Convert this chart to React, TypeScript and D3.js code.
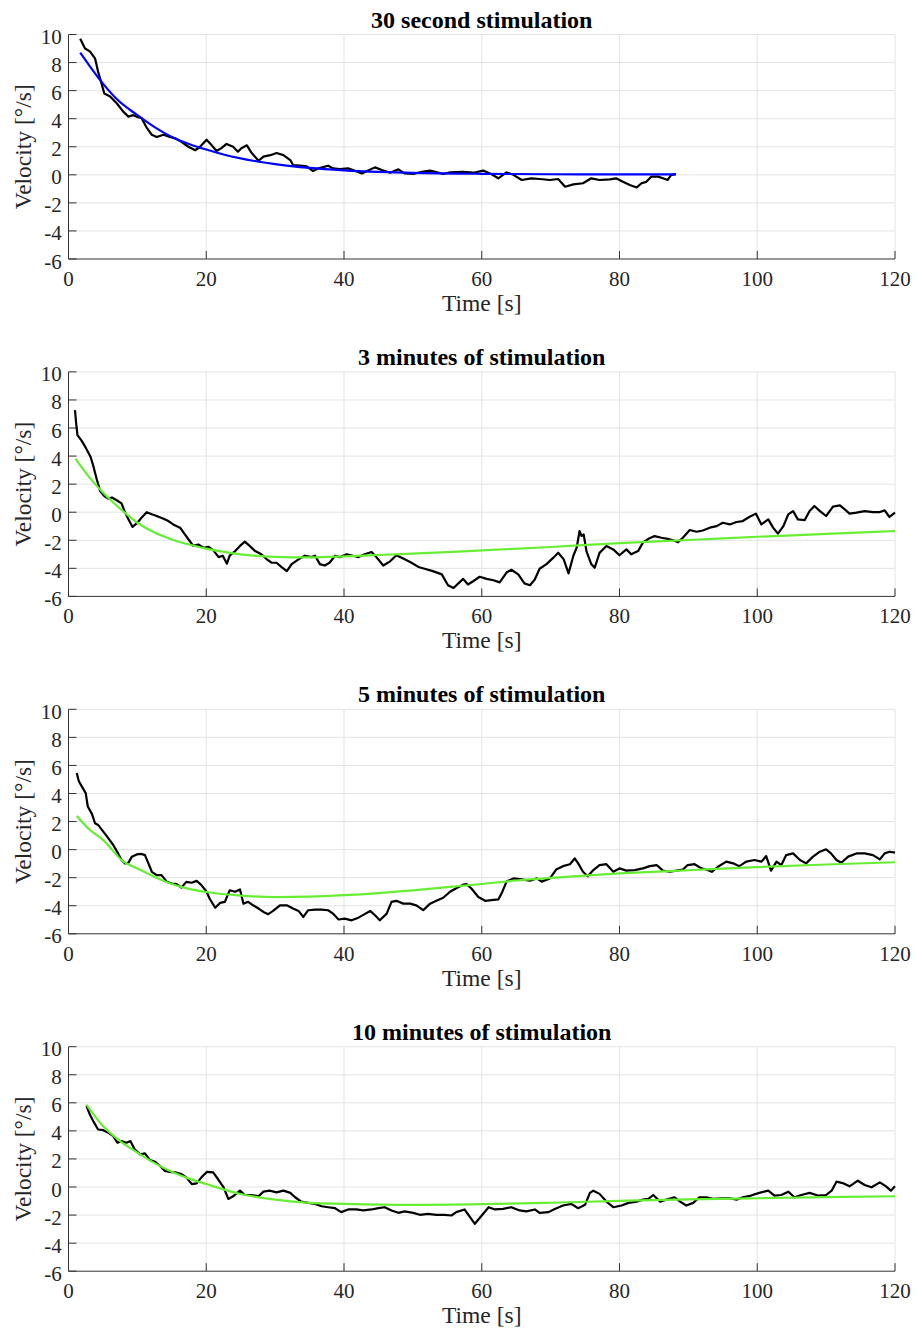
import React from "react";
import * as d3 from "d3";

// panel titles
const titles = [
  "30 second stimulation",
  "3 minutes of stimulation",
  "5 minutes of stimulation",
  "10 minutes of stimulation",
];

const xTicks = [0, 20, 40, 60, 80, 100, 120];
const yTicks = [-6, -4, -2, 0, 2, 4, 6, 8, 10];

// 30 s stimulation - measured velocity [t, v]
const raw30 = [
  [1.7, 9.7], [2.4, 9.0], [3.1, 8.8], [3.85, 8.3], [4.3, 7.35], [4.8, 6.5], [5.2, 5.8],
  [6.0, 5.6], [7.0, 5.1], [7.95, 4.5], [8.7, 4.15], [9.4, 4.25], [10.1, 4.1], [10.6, 4.05],
  [11.3, 3.4], [12.1, 2.85], [12.8, 2.7], [13.8, 2.85], [14.7, 2.7], [15.5, 2.6], [16.4, 2.35],
  [17.4, 2.0], [18.4, 1.75], [19.1, 2.0], [20.05, 2.5], [20.8, 2.1], [21.5, 1.7], [22.2, 1.9],
  [22.95, 2.2], [23.9, 2.0], [24.6, 1.65], [25.1, 1.9], [25.9, 2.1], [26.6, 1.55], [27.6, 1.0],
  [28.3, 1.3], [29.3, 1.4], [30.2, 1.55], [31.2, 1.4], [32.2, 1.05], [32.6, 0.7], [33.6, 0.65],
  [34.6, 0.6], [35.5, 0.27], [36.3, 0.46], [37.7, 0.65], [38.4, 0.46], [39.4, 0.41], [40.6, 0.46],
  [41.3, 0.34], [42.6, 0.1], [43.5, 0.3], [44.5, 0.53], [45.5, 0.34], [46.7, 0.15], [47.9, 0.39],
  [48.8, 0.1], [50.1, 0.06], [51.3, 0.22], [52.5, 0.3], [53.5, 0.18], [54.4, 0.06], [55.4, 0.17],
  [57.3, 0.22], [58.8, 0.15], [60.2, 0.3], [61.2, 0.1], [62.4, -0.25], [63.6, 0.17], [64.6, 0],
  [65.8, -0.37], [67.2, -0.25], [68.4, -0.3], [69.9, -0.37], [71.1, -0.3], [72.1, -0.85],
  [73.3, -0.68], [74.7, -0.6], [75.9, -0.25], [77.1, -0.37], [78.6, -0.32], [79.5, -0.25],
  [80.5, -0.5], [81.5, -0.73], [82.5, -0.9], [83.2, -0.6], [83.9, -0.5], [84.6, -0.13],
  [85.6, -0.13], [86.3, -0.25], [87.0, -0.37], [87.5, 0], [88.2, 0.05],
];

// 30 s stimulation - exponential fit
const fit30 = [
  [1.7, 8.7], [3, 7.8], [5, 6.5], [7, 5.4], [10, 4.25], [12.5, 3.4], [15, 2.7], [17.5, 2.2],
  [20, 1.8], [22.5, 1.45], [25, 1.17], [30, 0.76], [35, 0.49], [40, 0.32], [45, 0.21],
  [50, 0.14], [60, 0.07], [70, 0.04], [80, 0.03], [88.2, 0.03],
];

// 3 min stimulation
const raw3 = [
  [0.94, 7.27], [1.1, 6.4], [1.3, 5.5], [1.9, 5.1], [2.5, 4.6], [3.2, 3.95], [3.6, 3.3],
  [4.1, 2.35], [4.6, 1.5], [5.2, 1.15], [5.8, 0.96], [6.3, 1.05], [7.0, 0.85], [7.7, 0.63],
  [8.2, 0], [8.7, -0.5], [9.3, -1.05], [9.9, -0.8], [10.6, -0.4], [11.35, 0], [12.1, -0.15],
  [12.8, -0.27], [13.8, -0.46], [14.5, -0.63], [15.2, -0.87], [16.2, -1.1], [16.9, -1.58],
  [17.6, -2.05], [18.1, -2.4], [18.85, -2.3], [19.6, -2.53], [20.3, -2.46], [21.0, -2.7],
  [21.8, -3.2], [22.4, -3.1], [23.0, -3.67], [23.4, -3.1], [24.2, -2.77], [24.9, -2.4],
  [25.6, -2.1], [26.3, -2.4], [27.1, -2.77], [28.0, -3.0], [28.8, -3.36], [29.5, -3.6],
  [30.2, -3.6], [30.9, -3.9], [31.7, -4.2], [32.4, -3.7], [33.4, -3.36], [34.3, -3.1],
  [35.3, -3.2], [35.8, -3.1], [36.5, -3.7], [37.2, -3.8], [37.9, -3.6], [38.7, -3.1],
  [39.4, -3.2], [40.4, -3.0], [41.3, -3.1], [42.1, -3.2], [43.0, -3.0], [44.0, -2.84],
  [44.7, -3.2], [45.7, -3.8], [46.7, -3.5], [47.6, -3.07], [48.6, -3.3], [49.8, -3.6],
  [50.8, -3.9], [51.7, -4.03], [52.9, -4.2], [54.2, -4.43], [55.1, -5.2], [55.9, -5.4],
  [57.3, -4.75], [58.0, -5.15], [58.8, -4.9], [59.7, -4.6], [60.7, -4.75], [61.7, -4.85],
  [62.6, -5.0], [63.6, -4.3], [64.3, -4.1], [65.3, -4.43], [66.2, -5.07], [67.0, -5.2],
  [67.7, -4.8], [68.4, -4.03], [69.4, -3.7], [70.4, -3.24], [71.1, -2.89], [71.9, -3.36],
  [72.6, -4.36], [73.3, -3.1], [73.8, -2.5], [74.2, -1.34], [74.5, -1.7], [74.8, -1.58],
  [75.2, -2.77], [75.9, -3.7], [76.4, -3.96], [77.1, -2.9], [78.1, -2.41], [79.1, -2.65],
  [80.0, -3.07], [81.0, -2.65], [81.7, -3.0], [82.7, -2.77], [83.4, -2.17], [84.2, -1.9],
  [85.1, -1.7], [86.1, -1.82], [87.0, -1.9], [87.8, -2.0], [88.5, -2.13], [89.2, -1.82],
  [90.2, -1.27], [91.2, -1.39], [92.1, -1.3], [93.1, -1.1], [94.1, -0.99], [95.0, -0.75],
  [96.0, -0.87], [97.0, -0.7], [97.9, -0.63], [98.9, -0.32], [99.8, -0.1], [100.6, -0.87],
  [101.6, -0.51], [102.3, -1.1], [103.0, -1.53], [103.8, -0.99], [104.5, -0.15], [105.2, 0.08],
  [105.9, -0.51], [106.9, -0.56], [107.6, 0.08], [108.3, 0.44], [109.1, 0.08], [110.0, -0.27],
  [111.0, 0.4], [112.0, 0.49], [112.7, 0.2], [113.4, -0.1], [114.4, -0.03], [115.6, 0.08],
  [116.8, 0.01], [117.8, 0.01], [118.5, 0.13], [119.2, -0.34], [120.0, -0.03],
];

const fit3 = [
  [1, 3.82], [3, 2.5], [5, 1.4], [7.5, 0.25], [10, -0.75], [12.5, -1.45], [15, -1.94],
  [17.5, -2.3], [20, -2.6], [25, -3.0], [30, -3.18], [35, -3.22], [40, -3.15], [45, -3.05],
  [50, -2.95], [55, -2.85], [60, -2.72], [70, -2.48], [80, -2.2], [90, -1.98], [100, -1.75],
  [110, -1.55], [120, -1.34],
];

// 5 min stimulation
const raw5 = [
  [1.2, 5.46], [1.5, 4.87], [2.05, 4.4], [2.5, 4.03], [2.8, 3.07], [3.4, 2.55], [3.85, 1.88],
  [4.3, 1.76], [5.05, 1.28], [5.8, 0.8], [6.5, 0.33], [7.2, -0.27], [7.7, -0.74], [8.2, -0.98],
  [8.7, -0.94], [9.2, -0.5], [9.9, -0.34], [10.6, -0.31], [11.1, -0.39], [11.6, -0.98],
  [12.1, -1.58], [12.8, -1.82], [13.5, -1.82], [14.3, -2.3], [15.0, -2.42], [15.7, -2.46],
  [16.4, -2.7], [17.1, -2.3], [17.9, -2.36], [18.6, -2.22], [19.3, -2.53], [20.05, -3.0],
  [20.5, -3.5], [21.3, -4.14], [22.0, -3.8], [22.7, -3.72], [23.4, -2.9], [24.2, -3.0],
  [24.9, -2.84], [25.4, -3.85], [26.1, -3.72], [26.8, -3.97], [27.6, -4.2], [28.3, -4.44],
  [29.0, -4.6], [29.7, -4.37], [30.7, -3.97], [31.7, -3.97], [32.6, -4.2], [33.4, -4.37],
  [34.1, -4.8], [34.8, -4.32], [35.8, -4.28], [36.75, -4.28], [37.7, -4.32], [38.4, -4.56],
  [39.2, -4.98], [40.1, -4.92], [41.1, -5.04], [42.1, -4.85], [43.0, -4.6], [43.8, -4.37],
  [44.5, -4.68], [45.2, -5.04], [46.2, -4.56], [46.9, -3.72], [47.6, -3.65], [48.6, -3.85],
  [49.6, -3.85], [50.5, -3.97], [51.5, -4.32], [52.5, -3.85], [53.4, -3.65], [54.4, -3.43],
  [55.4, -3.0], [56.3, -2.75], [57.3, -2.5], [57.8, -2.46], [58.5, -2.77], [59.5, -3.38],
  [60.5, -3.65], [61.4, -3.6], [62.4, -3.55], [62.9, -3.1], [63.6, -2.28], [64.6, -2.05],
  [65.8, -2.12], [67.0, -2.22], [68.0, -2.05], [68.7, -2.28], [69.9, -2.05], [70.8, -1.42],
  [71.8, -1.18], [72.8, -1.04], [73.5, -0.63], [74.0, -0.98], [74.7, -1.58], [75.4, -1.9],
  [76.2, -1.46], [77.1, -1.1], [78.1, -1.04], [79.1, -1.58], [80.0, -1.34], [81.0, -1.5],
  [82.2, -1.46], [83.4, -1.34], [84.4, -1.18], [85.4, -1.1], [86.3, -1.5], [87.3, -1.58],
  [88.3, -1.5], [89.2, -1.42], [89.9, -1.1], [90.9, -1.04], [91.9, -1.34], [92.6, -1.42],
  [93.4, -1.58], [94.3, -1.22], [95.5, -0.86], [96.5, -0.98], [97.4, -1.18], [98.4, -0.86],
  [99.6, -0.74], [100.6, -0.86], [101.3, -0.46], [102.0, -1.5], [102.8, -0.86], [103.5, -1.1],
  [104.2, -0.39], [105.2, -0.27], [106.2, -0.74], [107.1, -0.98], [108.1, -0.5], [109.1, -0.15],
  [110.0, 0.02], [110.7, -0.27], [111.5, -0.74], [112.2, -0.94], [113.2, -0.5], [114.4, -0.27],
  [115.6, -0.27], [116.8, -0.39], [117.8, -0.7], [118.5, -0.27], [119.2, -0.15], [120.0, -0.22],
];

const fit5 = [
  [1.2, 2.4], [3, 1.45], [5, 0.69], [8, -0.86], [10, -1.34], [12.5, -1.95], [15, -2.45],
  [17.5, -2.8], [20, -3.02], [25, -3.28], [30, -3.38], [35, -3.35], [40, -3.25], [45, -3.1],
  [50, -2.9], [55, -2.68], [60, -2.45], [65, -2.2], [70, -2.02], [80, -1.7], [90, -1.47],
  [100, -1.25], [110, -1.06], [120, -0.9],
];

// 10 min stimulation
const raw10 = [
  [2.6, 5.8], [3.1, 5.16], [3.6, 4.69], [4.3, 4.1], [5.05, 4.05], [5.8, 3.86], [6.5, 3.63],
  [7.1, 3.16], [7.7, 3.27], [8.4, 3.16], [9.0, 3.27], [9.6, 2.69], [10.4, 2.33], [11.1, 2.4],
  [11.8, 1.93], [12.6, 1.79], [13.3, 1.5], [14.0, 1.15], [14.7, 1.08], [15.5, 1.04], [16.4, 0.92],
  [17.1, 0.69], [17.9, 0.21], [18.6, 0.26], [19.3, 0.69], [20.1, 1.08], [21.0, 1.04], [21.7, 0.57],
  [22.5, 0], [23.2, -0.85], [23.9, -0.66], [24.9, -0.26], [25.6, -0.57], [26.6, -0.57],
  [27.6, -0.66], [28.3, -0.33], [29.2, -0.26], [30.2, -0.38], [31.2, -0.26], [32.2, -0.42],
  [32.9, -0.73], [33.8, -1.04], [34.8, -1.13], [35.8, -1.2], [36.75, -1.37], [37.7, -1.44],
  [38.7, -1.51], [39.6, -1.79], [40.6, -1.6], [41.8, -1.6], [42.8, -1.67], [44.0, -1.6],
  [45.0, -1.51], [45.9, -1.44], [46.9, -1.67], [47.9, -1.84], [48.8, -1.74], [50.05, -1.84],
  [51.0, -1.98], [52.2, -1.91], [53.4, -1.98], [54.6, -1.98], [55.6, -2.03], [56.3, -1.79],
  [57.5, -1.6], [58.3, -2.14], [59.0, -2.62], [60.0, -2.03], [61.0, -1.44], [61.9, -1.6],
  [63.1, -1.56], [64.3, -1.44], [65.5, -1.67], [66.5, -1.74], [67.7, -1.6], [68.4, -1.84],
  [69.7, -1.79], [70.6, -1.56], [71.8, -1.32], [73.0, -1.2], [74.0, -1.51], [75.0, -1.27],
  [75.7, -0.42], [76.2, -0.26], [77.1, -0.49], [78.1, -1.04], [79.1, -1.44], [80.3, -1.32],
  [81.3, -1.13], [82.5, -1.04], [83.4, -0.9], [84.2, -0.85], [84.9, -0.57], [85.9, -1.04],
  [86.8, -0.9], [88.0, -0.73], [88.8, -1.04], [89.7, -1.32], [90.7, -1.13], [91.6, -0.73],
  [92.6, -0.73], [93.6, -0.85], [94.8, -0.8], [96.0, -0.8], [97.0, -0.9], [97.9, -0.73],
  [99.1, -0.61], [100.3, -0.42], [101.6, -0.26], [102.5, -0.61], [103.5, -0.57], [104.5, -0.33],
  [105.4, -0.73], [106.4, -0.57], [107.6, -0.42], [108.8, -0.61], [110.0, -0.57], [110.8, -0.26],
  [111.5, 0.38], [112.4, 0.28], [113.4, 0.05], [114.6, 0.45], [115.6, 0.14], [116.6, -0.02],
  [117.8, 0.33], [118.7, 0.05], [119.4, -0.26], [120.0, 0.05],
];

const fit10 = [
  [2.6, 5.87], [5, 4.34], [7.5, 3.27], [10, 2.45], [12.5, 1.7], [15, 1.08], [17.5, 0.6],
  [20, 0.21], [25, -0.5], [30, -0.9], [35, -1.13], [40, -1.2], [50, -1.27], [60, -1.22],
  [70, -1.12], [80, -0.99], [90, -0.88], [100, -0.8], [110, -0.72], [120, -0.66],
];

const rawSeries = [raw30, raw3, raw5, raw10];
const fitSeries = [fit30, fit3, fit5, fit10];
const fitColors = ["#0000ff", "#66ee33", "#66ee33", "#66ee33"];

const W = 917;
const H = 1334;
const left = 68.5;
const right = 895;
const firstTop = 34.5;
const step = 337.4;
const plotH = 224.5;
const font = "'Liberation Serif', 'Times New Roman', serif";
const axisColor = "#333333";

function Panel({ idx }) {
  const top = firstTop + idx * step;
  const bottom = top + plotH;
  const x = d3.scaleLinear().domain([0, 120]).range([left, right]);
  const y = d3.scaleLinear().domain([-6, 10]).range([bottom, top]);

  const rawLine = d3
    .line()
    .x((d) => x(d[0]))
    .y((d) => y(d[1]));
  const fitLine = d3
    .line()
    .x((d) => x(d[0]))
    .y((d) => y(d[1]))
    .curve(d3.curveMonotoneX);

  const cx = (left + right) / 2;

  return (
    <g>
      {/* grid */}
      {xTicks.slice(1).map((t) => (
        <line key={"gx" + t} x1={x(t)} x2={x(t)} y1={top} y2={bottom} stroke="#e3e3e3" strokeWidth={1} />
      ))}
      {yTicks.slice(1).map((t) => (
        <line key={"gy" + t} x1={left} x2={right} y1={y(t)} y2={y(t)} stroke="#e3e3e3" strokeWidth={1} />
      ))}

      {/* axes */}
      <line x1={left} x2={left} y1={top} y2={bottom} stroke={axisColor} strokeWidth={1} />
      <line x1={left} x2={right} y1={bottom} y2={bottom} stroke={axisColor} strokeWidth={1} />
      {xTicks.map((t) => (
        <g key={"tx" + t}>
          <line x1={x(t)} x2={x(t)} y1={bottom} y2={bottom - 8} stroke={axisColor} strokeWidth={1} />
          <text x={x(t)} y={bottom + 27} textAnchor="middle" fontFamily={font} fontSize={21} fill="#262626">
            {t}
          </text>
        </g>
      ))}
      {yTicks.map((t) => (
        <g key={"ty" + t}>
          <line x1={left} x2={left + 8} y1={y(t)} y2={y(t)} stroke={axisColor} strokeWidth={1} />
          <text x={61.7} y={y(t) + 9.5} textAnchor="end" fontFamily={font} fontSize={21} fill="#262626">
            {t}
          </text>
        </g>
      ))}

      {/* series */}
      <path d={rawLine(rawSeries[idx])} fill="none" stroke="#000" strokeWidth={2.2} strokeLinejoin="round" />
      <path d={fitLine(fitSeries[idx])} fill="none" stroke={fitColors[idx]} strokeWidth={2.2} />

      {/* labels */}
      <text x={cx} y={top - 7} textAnchor="middle" fontFamily={font} fontSize={24} fontWeight="bold" fill="#000">
        {titles[idx]}
      </text>
      <text x={cx} y={bottom + 52} textAnchor="middle" fontFamily={font} fontSize={23.5} fill="#262626">
        Time [s]
      </text>
      <text
        transform={`translate(31,${(top + bottom) / 2}) rotate(-90)`}
        textAnchor="middle"
        fontFamily={font}
        fontSize={23.5}
        fill="#262626"
      >
        Velocity [°/s]
      </text>
    </g>
  );
}

export default function App() {
  return (
    <svg
      width={W}
      height={H}
      style={{ position: "absolute", left: 0, top: 0, background: "#fff" }}
    >
      <rect width={W} height={H} fill="#fff" />
      {[0, 1, 2, 3].map((i) => (
        <Panel key={i} idx={i} />
      ))}
    </svg>
  );
}
